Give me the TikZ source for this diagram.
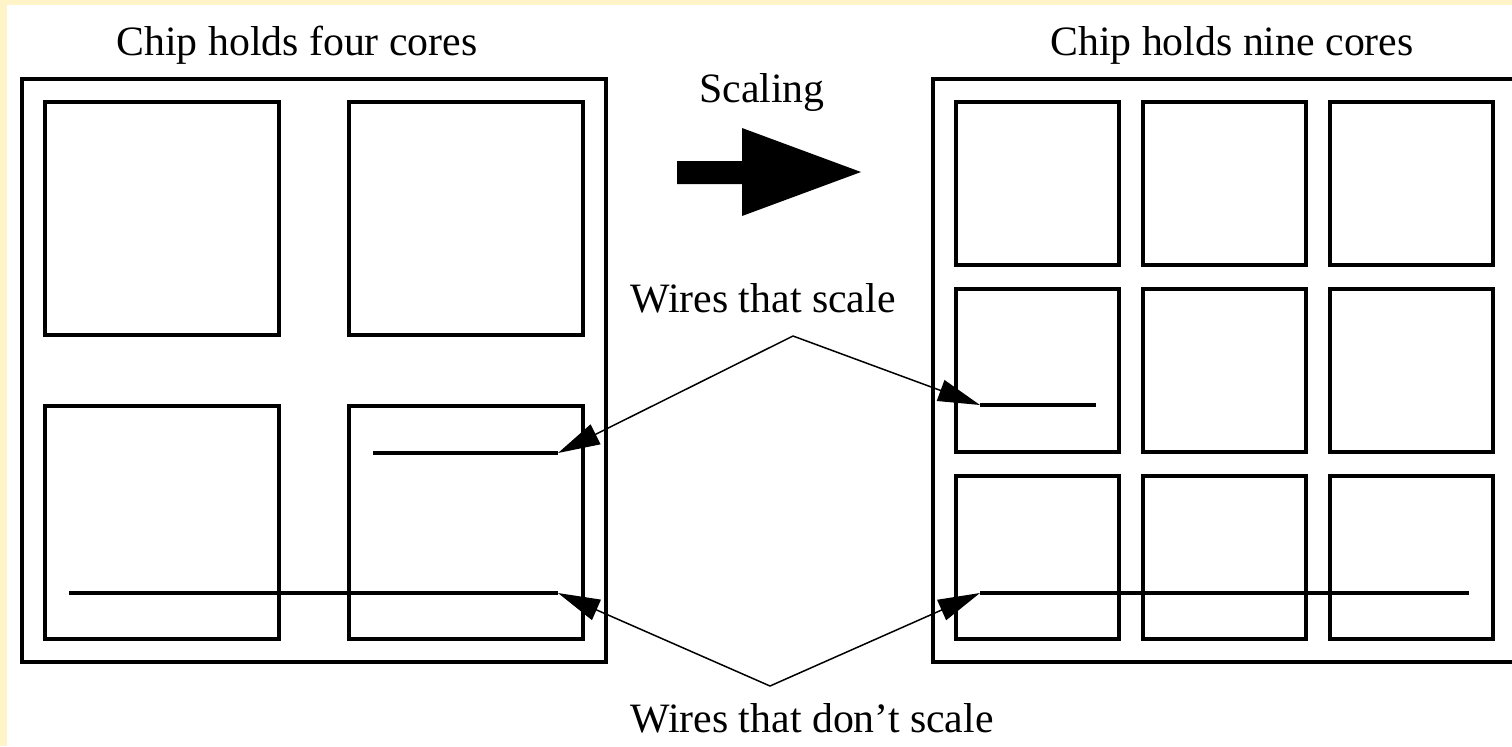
\documentclass[tikz,border=0pt]{standalone}
\usepackage{fontspec}
\setmainfont{Liberation Serif}
\usetikzlibrary{arrows.meta}
\definecolor{paper}{RGB}{255,243,200}
\tikzset{
  chipbox/.style={line width=2pt},
  corebox/.style={line width=2pt},
  wire/.style={line width=1.75pt},
  pointer/.style={line width=0.75pt,-{Triangle[length=21pt,width=11pt]}},
  caption/.style={anchor=base,inner sep=0pt,font=\fontsize{20.9}{25}\selectfont},
}
\begin{document}
\begin{tikzpicture}[x=0.5pt,y=-0.5pt]
\useasboundingbox (0,0) rectangle (1512,746);
\fill[white] (0,0) rectangle (1512,746);
\fill[paper] (0,0) rectangle (1512,5);
\fill[paper] (0,0) rectangle (7,746);
\clip (0,0) rectangle (1512,746);
%%% chip with four cores
\draw[chipbox] (22,79) rectangle (606,662);
\foreach \cx in {45,349}
  \foreach \cy in {102,406}
    \draw[corebox] (\cx,\cy) rectangle ++(234,233);
%%% chip with nine cores
\draw[chipbox] (933,79) rectangle (1517,662);
\foreach \cx in {956,1143,1330}
  \foreach \cy in {102,289,476}
    \draw[corebox] (\cx,\cy) rectangle ++(163,163);
%%% wire end points
\coordinate (lshortA) at (373,453);
\coordinate (lshortB) at (558,453);
\coordinate (llongA) at (69,593);
\coordinate (llongB) at (558,593);
\coordinate (rshortA) at (980,405);
\coordinate (rshortB) at (1096,405);
\coordinate (rlongA) at (980,593);
\coordinate (rlongB) at (1469,593);
\draw[wire] (lshortA) -- (lshortB);
\draw[wire] (llongA) -- (llongB);
\draw[wire] (rshortA) -- (rshortB);
\draw[wire] (rlongA) -- (rlongB);
%%% labels
\node[caption] (fourtitle) at (297,55) {Chip holds four cores};
\node[caption] (ninetitle) at (1232,55) {Chip holds nine cores};
\node[caption] (scaling) at (762,102) {Scaling};
\node[caption] (scalelbl) at (763,312) {Wires that scale};
\node[caption] (noscalelbl) at (812,732) {Wires that don’t scale};
%%% big scaling arrow
\fill (677,161) -- (742,161) -- (742,128) -- (861,172) -- (742,216) -- (742,184) -- (677,184) -- cycle;
%%% pointers from the labels to the wires
\coordinate (scaleapex) at (793,336);
\coordinate (noscaleapex) at (770,686);
\draw[pointer] (scaleapex) -- (lshortB);
\draw[pointer] (scaleapex) -- (rshortA);
\draw[pointer] (noscaleapex) -- (llongB);
\draw[pointer] (noscaleapex) -- (rlongA);
\end{tikzpicture}
\end{document}
